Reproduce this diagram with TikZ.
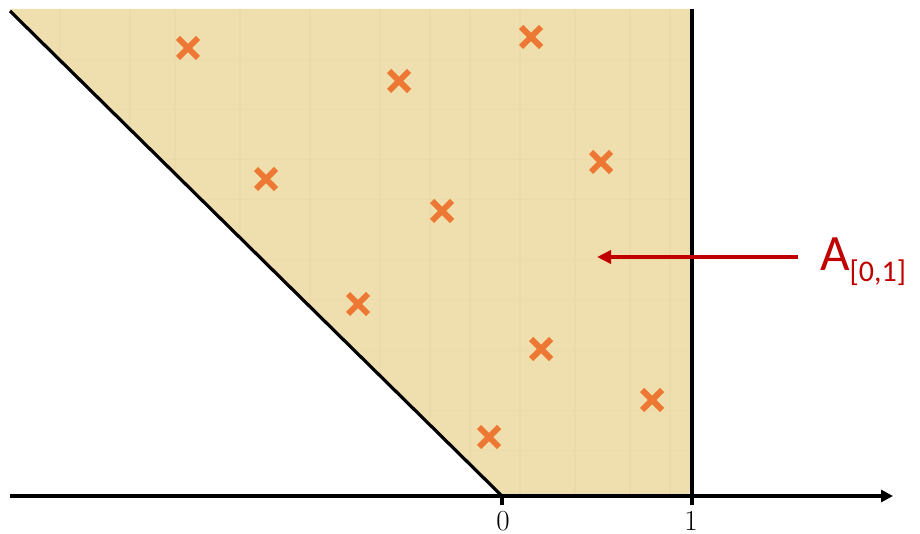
\documentclass[tikz,border=0pt]{standalone}
\usepackage{fontspec}
\setsansfont{Carlito}
\usetikzlibrary{arrows.meta,shapes.misc}
\definecolor{papyrus}{RGB}{240,223,174}
\definecolor{xorange}{RGB}{237,120,52}
\definecolor{darkred}{RGB}{192,0,0}
\tikzset{
  mark x/.style={cross out, draw=xorange, line width=6pt, minimum size=14pt, inner sep=0pt},
  axisline/.style={line width=3.2pt, black},
  ticklbl/.style={font=\fontsize{29}{29}\selectfont, anchor=base, inner sep=0pt},
}
\begin{document}
\begin{tikzpicture}[x=1pt,y=-1pt]
\useasboundingbox (0,0) rectangle (920,534);
% region
\coordinate (tl) at (10,11);
\coordinate (tt) at (10,9);
\coordinate (tr) at (692,9);
\coordinate (br) at (692,496);
\coordinate (o) at (502,496);
\fill[papyrus] (tt) -- (tr) -- (br) -- (o) -- (tl) -- cycle;
% texture hints
\begin{scope}
\clip (tt) -- (tr) -- (br) -- (o) -- (tl) -- cycle;
\foreach \x in {60,130,175,240,310,380,430,470,520,575,630,670}
  \draw[papyrus!85!brown, opacity=0.3, line width=1.2pt] (\x,9) -- (\x,496);
\foreach \y in {60,110,160,200,260,300,350,410,450}
  \draw[papyrus!88!brown, opacity=0.3, line width=1pt] (10,\y) -- (692,\y);
\end{scope}
\draw[line width=3.2pt] (tl) -- (o);
\draw[axisline] (tr) -- (br);
% axis
\coordinate (xl) at (10,496);
\coordinate (xr) at (893,496);
\draw[axisline, -{Triangle[length=12pt,width=12pt]}] (xl) -- (xr);
\coordinate (t0) at (502,505);
\coordinate (t1) at (692,505);
\draw[axisline] (o) -- (t0);
\draw[axisline] (br) -- (t1);
\node[ticklbl] (l0) at (503,530) {0};
\node[ticklbl] (l1) at (691,530) {1};
% crosses
\node[mark x] (c1) at (188,48) {};
\node[mark x] (c2) at (531,37) {};
\node[mark x] (c3) at (399,81) {};
\node[mark x] (c4) at (601,162) {};
\node[mark x] (c5) at (266,179) {};
\node[mark x] (c6) at (442,211) {};
\node[mark x] (c7) at (358,304) {};
\node[mark x] (c8) at (541,349) {};
\node[mark x] (c9) at (652,400) {};
\node[mark x] (c10) at (489,437) {};
% label and arrow
\node[anchor=base west, inner sep=0pt, text=darkred, font=\sffamily\fontsize{51}{51}\selectfont] (A) at (820,271)
  {A\raisebox{-11pt}{\fontsize{30}{30}\selectfont[0,1]}};
\coordinate (as) at (798,257);
\coordinate (ae) at (597,257);
\draw[darkred, line width=4.5pt, -{Triangle[length=14pt,width=13pt]}] (as) -- (ae);
\end{tikzpicture}
\end{document}
